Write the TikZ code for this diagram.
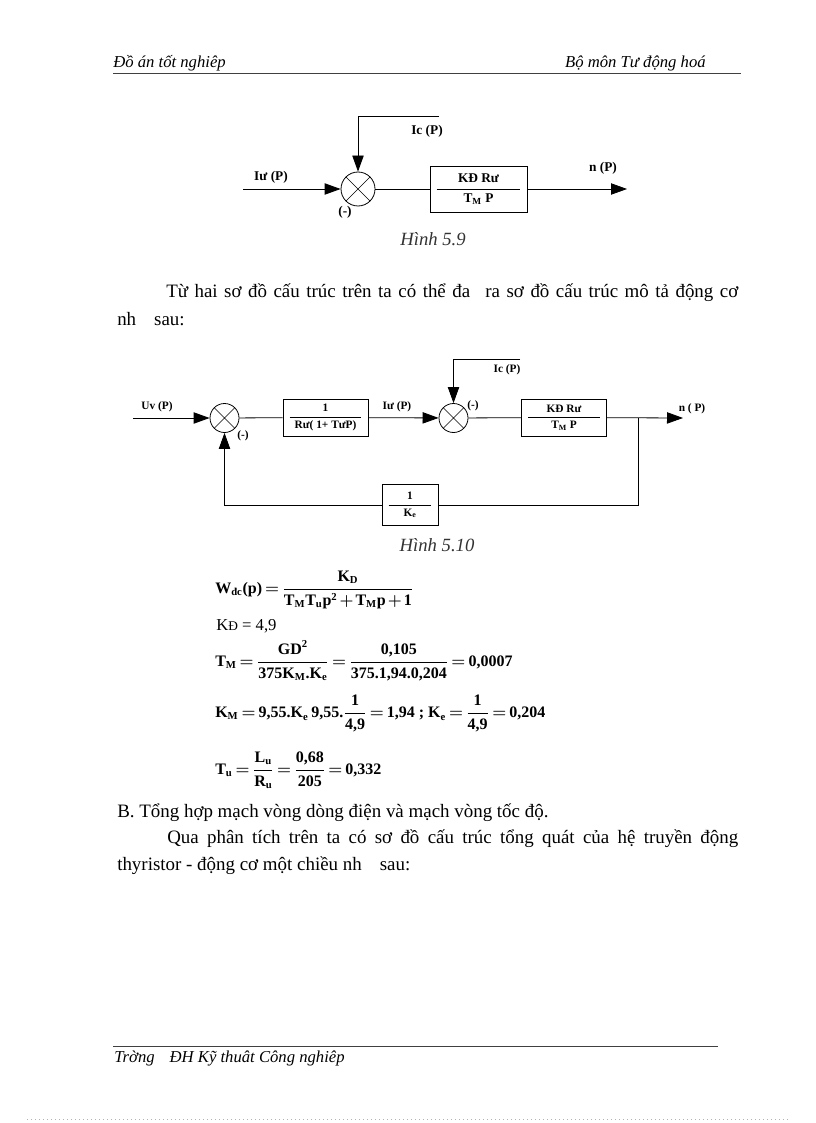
\documentclass[tikz,border=0pt]{standalone}
\usepackage{amsmath}
\usepackage{fontspec}
\setmainfont{Liberation Serif}
\usetikzlibrary{positioning,arrows.meta}

\newcommand{\bt}[1]{\text{#1}}
\newcommand{\tightmath}{\thickmuskip=3mu\relax\medmuskip=2mu\relax}

\begin{document}
\begin{tikzpicture}[x=0.75pt,y=-0.75pt,
  every node/.style={inner sep=0pt},
  txt/.style={font=\fontsize{14.2}{17}\selectfont, anchor=base west},
  hdr/.style={font=\fontsize{12.5}{14}\selectfont\itshape},
  figcap/.style={font=\fontsize{14}{17}\selectfont\itshape, text=black!80},
  lblA/.style={font=\fontsize{10}{15}\selectfont\bfseries, align=center},
  lblB/.style={font=\fontsize{8.5}{12.5}\selectfont\bfseries, align=center},
  eqn/.style={font=\fontsize{12}{14}\selectfont\bfseries\boldmath, anchor=base west},
  sig/.style={line width=0.6pt},
  ar/.style={sig, -{Triangle[length=12pt,width=8.5pt]}},
  sumjn/.style={circle, draw, line width=0.6pt, minimum size=#1,
    path picture={\draw[line width=0.5pt]
      (path picture bounding box.north west) -- (path picture bounding box.south east)
      (path picture bounding box.north east) -- (path picture bounding box.south west);}},
  blk/.style={draw, line width=0.6pt,
    path picture={\draw[line width=0.5pt]
      ([xshift=5pt]path picture bounding box.west) -- ([xshift=-5pt]path picture bounding box.east);}},
]

% Page
\useasboundingbox[fill=white] (0,0) rectangle (816,1123);
\draw[black!30, line width=0.5pt, dash pattern=on 0.6pt off 2.4pt] (27,1119) -- (790,1119);

% Header and footer
\node[hdr, anchor=base west] (hdl) at (113,68) {Đồ án tốt nghiêp};
\node[hdr, anchor=base east] (hdr) at (706,68) {Bộ môn Tư động hoá};
\draw[line width=0.6pt, black!75] (113,73) -- (741,73);
\draw[line width=0.6pt, black!75] (113,1046) -- (718,1046);
\node[hdr, anchor=base west] (ftr) at (114,1062) {Trờng\hspace{0.9em}ĐH Kỹ thuât Công nghiêp};

% Figure 5.9
\node[sumjn=25.5pt] (sA) at (358,189) {};
\node[blk, lblA, minimum width=72.75pt, minimum height=34.5pt] (gA) at (478.5,189)
  {KĐ Rư\\T\textsubscript{M} P};
\coordinate (inA) at (243,189);
\coordinate (outA) at (627,189);
\coordinate (icA) at (439,116);
\draw[ar] (inA) -- (sA);
\draw[ar] (icA) -| (sA);
\draw[sig] (sA) -- (gA);
\draw[ar] (gA) -- (outA);
\node[lblA] (linA) at (271,177) {Iư (P)};
\node[lblA] (licA) at (427,131) {Ic (P)};
\node[lblA] (lmA) at (345,212) {(-)};
\node[lblA] (lnA) at (603,168) {n (P)};
\node[figcap] (capA) at (433,239) {Hình 5.9};

% Text
\node[txt] (pa) at (166,297) {\makebox[429pt][s]{Từ hai sơ đồ cấu trúc trên ta có thể đa\hspace{0.8em}ra sơ đồ cấu trúc mô tả động cơ}};
\node[txt] (pb) at (117,325) {nh\hspace{0.95em}sau:};

% Figure 5.10
\node[sumjn=21.75pt] (s1) at (224.5,418) {};
\node[blk, lblB, minimum width=63.75pt, minimum height=27.75pt] (g1) at (325.5,417.5)
  {1\\Rư( 1+ TưP)};
\node[sumjn=21.75pt] (s2) at (453.5,418) {};
\node[blk, lblB, minimum width=63.75pt, minimum height=27.75pt] (g2) at (564,417.5)
  {KĐ Rư\\T\textsubscript{M} P};
\node[blk, lblB, minimum width=42pt, minimum height=30.75pt] (g3) at (410,505)
  {1\\K\textsubscript{e}};
\coordinate (in1) at (133,418);
\coordinate (br1) at (638,418);
\coordinate (out1) at (683,418);
\coordinate (ic1) at (520,359);
\draw[ar] (in1) -- (s1);
\draw[sig] (s1) -- (g1);
\draw[ar] (g1) -- (s2);
\draw[sig] (s2) -- (g2);
\draw[ar] (g2) -- (out1);
\draw[ar] (ic1) -| (s2);
\draw[sig] (br1) |- (g3);
\draw[ar] (g3) -| (s1);
\node[lblB] (lu1) at (157,407) {Uv (P)};
\node[lblB] (lm1) at (243,436) {(-)};
\node[lblB] (li1) at (397,407) {Iư (P)};
\node[lblB] (lm2) at (473,406) {(-)};
\node[lblB] (lc1) at (507,370) {Ic (P)};
\node[lblB] (ln1) at (692,409) {n ( P)};
\node[figcap] (capB) at (437,545) {Hình 5.10};

% Formulas
\node[eqn] (eq1) at (215,593) {$\tightmath\bt{W}_{\bt{đc}}\bt{(p)} = \dfrac{\bt{K}_{\bt{D}}}{\bt{T}_{\bt{M}}\bt{T}_{\bt{u}}\bt{p}^{\bt{2}} + \bt{T}_{\bt{M}}\bt{p} + \bt{1}}$};
\node[txt, font=\fontsize{12.5}{15}\selectfont] (eq2) at (216,630) {K{\fontsize{10}{12}\selectfont Đ} = 4,9};
\node[eqn] (eq3) at (215,666) {$\tightmath\bt{T}_{\bt{M}} = \dfrac{\bt{GD}^{\bt{2}}}{\bt{375K}_{\bt{M}}\bt{.K}_{\bt{e}}} = \dfrac{\bt{0,105}}{\bt{375.1,94.0,204}} = \bt{0,0007}$};
\node[eqn] (eq4) at (215,717) {$\tightmath\bt{K}_{\bt{M}} = \bt{9,55.K}_{\bt{e}}\,\bt{9,55.}\dfrac{\bt{1}}{\bt{4,9}} = \bt{1,94 ;\ K}_{\bt{e}} = \dfrac{\bt{1}}{\bt{4,9}} = \bt{0,204}$};
\node[eqn] (eq5) at (215,774) {$\tightmath\bt{T}_{\bt{u}} = \dfrac{\bt{L}_{\bt{u}}}{\bt{R}_{\bt{u}}} = \dfrac{\bt{0,68}}{\bt{205}} = \bt{0,332}$};

% Text
\node[txt] (pc) at (117,817) {B. Tổng hợp mạch vòng dòng điện và mạch vòng tốc độ.};
\node[txt] (pd) at (167,843) {\makebox[428.25pt][s]{Qua phân tích trên ta có sơ đồ cấu trúc tổng quát của hệ truyền động}};
\node[txt] (pe) at (117,870) {thyristor - động cơ một chiều nh\hspace{0.95em}sau:};

\end{tikzpicture}
\end{document}
